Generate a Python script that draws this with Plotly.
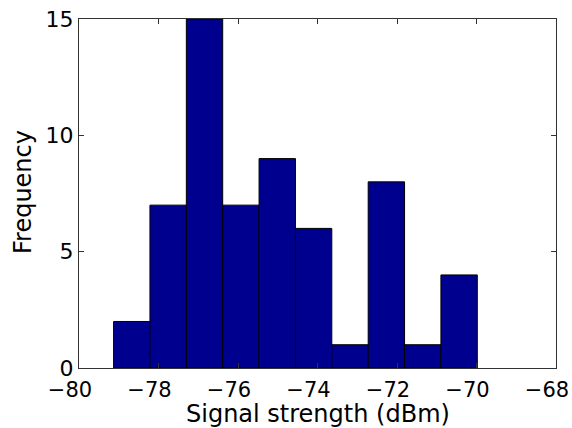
import plotly.graph_objects as go

# Histogram data (signal strength bins, dBm)
bin_edges_start = -79.13
bin_width = 0.915
counts = [2, 7, 15, 7, 9, 6, 1, 8, 1, 4]
x_ticks = [-80, -78, -76, -74, -72, -70, -68]
y_ticks = [0, 5, 10, 15]

centers = [bin_edges_start + bin_width * (i + 0.5) for i in range(len(counts))]

fig = go.Figure(go.Bar(
    x=centers, y=counts, width=[bin_width] * len(counts),
    marker=dict(color="#00008F", line=dict(color="black", width=1)),
))

W, H = 572, 428
ML, MR, MT, MB = 79, 16, 19, 60
plot_w = W - ML - MR
plot_h = H - MT - MB

font = dict(family="DejaVu Sans, sans-serif", color="black")
axis_common = dict(
    showgrid=False, zeroline=False, showline=True, linecolor="#333333", linewidth=1,
    mirror="ticks", ticks="inside", ticklen=5, tickcolor="#333333",
    automargin=False, ticklabeloverflow="allow",
)
x_labels = ["\u2212" + str(abs(v)) for v in x_ticks]
fig.update_layout(
    width=W, height=H,
    margin=dict(l=ML, r=MR, t=MT, b=MB),
    paper_bgcolor="white", plot_bgcolor="white",
    showlegend=False, bargap=0,
    xaxis=dict(range=[-80, -68], tickvals=x_ticks, ticktext=x_labels,
               tickfont=dict(size=21, **font),
               ticklabelshift=-9, ticklabelstandoff=3, **axis_common),
    yaxis=dict(range=[0, 15], tickvals=y_ticks, tickfont=dict(size=22, **font), **axis_common),
)
fig.add_annotation(text="Signal strength (dBm)", x=0.5, xref="paper",
                   y=-46 / plot_h, yref="paper", yanchor="middle",
                   showarrow=False, font=dict(size=24, **font))
fig.add_annotation(text="Frequency", x=-56 / plot_w, xref="paper", xanchor="center",
                   y=176 / plot_h, yref="paper", yanchor="middle", textangle=-90,
                   showarrow=False, font=dict(size=24, **font))
fig.write_html(
    "out.html",
    config={"displayModeBar": False, "staticPlot": True},
    post_script="document.body.style.margin='0';document.body.style.overflow='hidden';",
)
